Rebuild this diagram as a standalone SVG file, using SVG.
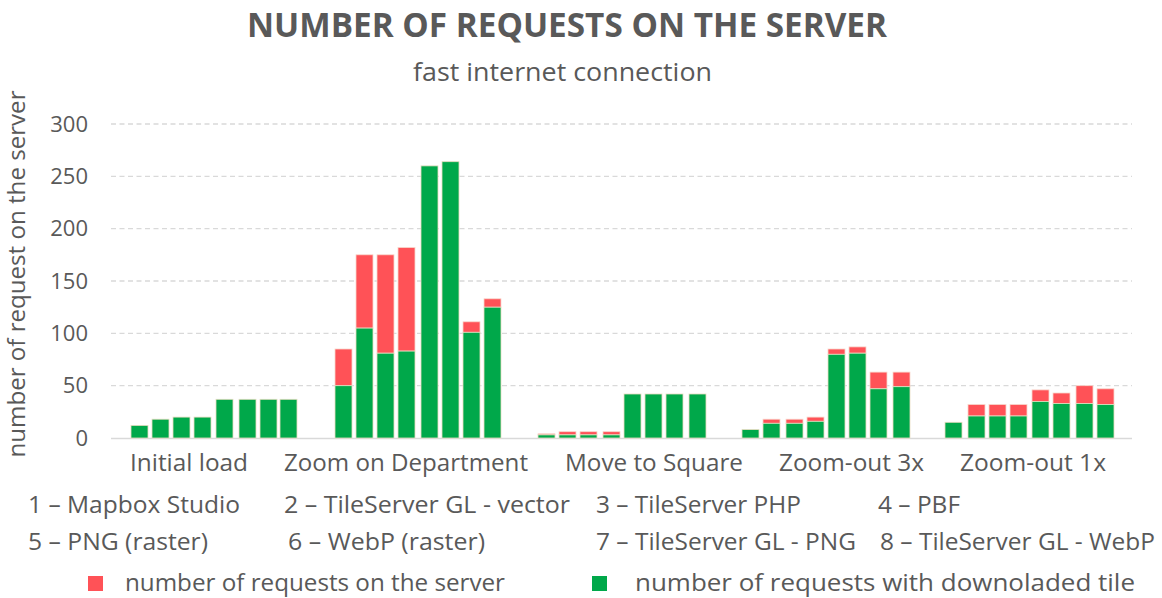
<svg xmlns="http://www.w3.org/2000/svg" width="1162" height="598" viewBox="0 0 1162 598">
<style>
.t{font-family:"Open Sans","Liberation Sans",sans-serif;fill:#595959}
.title{font-size:34px;font-weight:bold}
.sub{font-size:25px}
.ylab{font-size:24.5px}
.tick{font-size:22px;text-anchor:end}
.cat{font-size:24.5px}
.leg{font-size:24.5px}
.grid{stroke:#d9d9d9;stroke-width:1.3;stroke-dasharray:5 3.5}
.r{fill:#ff5257;stroke:#f8d8cc;stroke-width:0.8}
.g{fill:#00a84a;stroke:#e8dcc0;stroke-width:0.8}
</style>
<rect width="1162" height="598" fill="#ffffff"/>
<text class="t title" x="247" y="37" textLength="640" lengthAdjust="spacingAndGlyphs">NUMBER OF REQUESTS ON THE SERVER</text>
<text class="t sub" x="413" y="81" textLength="299" lengthAdjust="spacingAndGlyphs">fast internet connection</text>
<text class="t ylab" transform="translate(25,274) rotate(-90)" text-anchor="middle" textLength="367" lengthAdjust="spacingAndGlyphs">number of request on the server</text>
<g id="grid">
<line class="grid" x1="111" y1="124" x2="1132" y2="124"/>
<line class="grid" x1="111" y1="176.3" x2="1132" y2="176.3"/>
<line class="grid" x1="111" y1="228.7" x2="1132" y2="228.7"/>
<line class="grid" x1="111" y1="281" x2="1132" y2="281"/>
<line class="grid" x1="111" y1="333.3" x2="1132" y2="333.3"/>
<line class="grid" x1="111" y1="385.7" x2="1132" y2="385.7"/>
<line x1="111" y1="438.5" x2="1132" y2="438.5" stroke="#d9d9d9" stroke-width="1.5"/>
</g>
<g id="yticks">
<text class="t tick" x="88" y="131.5">300</text>
<text class="t tick" x="88" y="183.8">250</text>
<text class="t tick" x="88" y="236.2">200</text>
<text class="t tick" x="88" y="288.5">150</text>
<text class="t tick" x="88" y="340.8">100</text>
<text class="t tick" x="88" y="393.2">50</text>
<text class="t tick" x="88" y="445.5">0</text>
</g>
<g id="initial-load">
<rect class="g" x="131" y="425.4" width="17" height="12.6"/>
<rect class="g" x="152" y="419.2" width="17" height="18.8"/>
<rect class="g" x="173" y="417.1" width="17" height="20.9"/>
<rect class="g" x="194" y="417.1" width="17" height="20.9"/>
<rect class="g" x="216" y="399.3" width="17" height="38.7"/>
<rect class="g" x="239" y="399.3" width="17" height="38.7"/>
<rect class="g" x="260" y="399.3" width="17" height="38.7"/>
<rect class="g" x="280" y="399.3" width="17" height="38.7"/>
</g>
<g id="zoom-on-department">
<rect class="r" x="335" y="349" width="17" height="36.7"/>
<rect class="g" x="335" y="385.7" width="17" height="52.3"/>
<rect class="r" x="356" y="254.8" width="17" height="73.3"/>
<rect class="g" x="356" y="328.1" width="17" height="109.9"/>
<rect class="r" x="377" y="254.8" width="17" height="98.4"/>
<rect class="g" x="377" y="353.2" width="17" height="84.8"/>
<rect class="r" x="398" y="247.5" width="17" height="103.6"/>
<rect class="g" x="398" y="351.1" width="17" height="86.9"/>
<rect class="g" x="421" y="165.9" width="17" height="272.1"/>
<rect class="g" x="442" y="161.7" width="17" height="276.3"/>
<rect class="r" x="463" y="321.8" width="17" height="10.5"/>
<rect class="g" x="463" y="332.3" width="17" height="105.7"/>
<rect class="r" x="484" y="298.8" width="17" height="8.4"/>
<rect class="g" x="484" y="307.2" width="17" height="130.8"/>
</g>
<g id="move-to-square">
<rect class="r" x="538" y="433.8" width="17" height="1.1"/>
<rect class="g" x="538" y="434.9" width="17" height="3.1"/>
<rect class="r" x="559" y="431.7" width="17" height="3.2"/>
<rect class="g" x="559" y="434.9" width="17" height="3.1"/>
<rect class="r" x="580" y="431.7" width="17" height="3.2"/>
<rect class="g" x="580" y="434.9" width="17" height="3.1"/>
<rect class="r" x="603" y="431.7" width="17" height="3.2"/>
<rect class="g" x="603" y="434.9" width="17" height="3.1"/>
<rect class="g" x="624" y="394" width="17" height="44"/>
<rect class="g" x="645" y="394" width="17" height="44"/>
<rect class="g" x="666" y="394" width="17" height="44"/>
<rect class="g" x="689" y="394" width="17" height="44"/>
</g>
<g id="zoom-out-3x">
<rect class="g" x="742" y="429.6" width="17" height="8.4"/>
<rect class="r" x="763" y="419.2" width="17" height="4.1"/>
<rect class="g" x="763" y="423.3" width="17" height="14.7"/>
<rect class="r" x="786" y="419.2" width="17" height="4.1"/>
<rect class="g" x="786" y="423.3" width="17" height="14.7"/>
<rect class="r" x="807" y="417.1" width="17" height="4.2"/>
<rect class="g" x="807" y="421.3" width="17" height="16.7"/>
<rect class="r" x="828" y="349" width="17" height="5.3"/>
<rect class="g" x="828" y="354.3" width="17" height="83.7"/>
<rect class="r" x="849" y="346.9" width="17" height="6.3"/>
<rect class="g" x="849" y="353.2" width="17" height="84.8"/>
<rect class="r" x="870" y="372.1" width="17" height="16.7"/>
<rect class="g" x="870" y="388.8" width="17" height="49.2"/>
<rect class="r" x="893" y="372.1" width="17" height="14.6"/>
<rect class="g" x="893" y="386.7" width="17" height="51.3"/>
</g>
<g id="zoom-out-1x">
<rect class="g" x="945" y="422.3" width="17" height="15.7"/>
<rect class="r" x="968" y="404.5" width="17" height="11.5"/>
<rect class="g" x="968" y="416" width="17" height="22"/>
<rect class="r" x="989" y="404.5" width="17" height="11.5"/>
<rect class="g" x="989" y="416" width="17" height="22"/>
<rect class="r" x="1010" y="404.5" width="17" height="11.5"/>
<rect class="g" x="1010" y="416" width="17" height="22"/>
<rect class="r" x="1032" y="389.9" width="17" height="11.5"/>
<rect class="g" x="1032" y="401.4" width="17" height="36.6"/>
<rect class="r" x="1053" y="393" width="17" height="10.5"/>
<rect class="g" x="1053" y="403.5" width="17" height="34.5"/>
<rect class="r" x="1076" y="385.7" width="17" height="17.8"/>
<rect class="g" x="1076" y="403.5" width="17" height="34.5"/>
<rect class="r" x="1097" y="388.8" width="17" height="15.7"/>
<rect class="g" x="1097" y="404.5" width="17" height="33.5"/>
</g>
<g id="categories">
<text class="t cat" x="130" y="471" textLength="118" lengthAdjust="spacingAndGlyphs">Initial load</text>
<text class="t cat" x="284" y="471" textLength="244" lengthAdjust="spacingAndGlyphs">Zoom on Department</text>
<text class="t cat" x="565" y="471" textLength="178" lengthAdjust="spacingAndGlyphs">Move to Square</text>
<text class="t cat" x="779" y="471" textLength="145" lengthAdjust="spacingAndGlyphs">Zoom-out 3x</text>
<text class="t cat" x="960" y="471" textLength="146" lengthAdjust="spacingAndGlyphs">Zoom-out 1x</text>
</g>
<g id="series-names">
<text class="t leg" x="28" y="513" textLength="212" lengthAdjust="spacingAndGlyphs">1 – Mapbox Studio</text>
<text class="t leg" x="284" y="513" textLength="286" lengthAdjust="spacingAndGlyphs">2 – TileServer GL - vector</text>
<text class="t leg" x="596" y="513" textLength="205" lengthAdjust="spacingAndGlyphs">3 – TileServer PHP</text>
<text class="t leg" x="878" y="513" textLength="82" lengthAdjust="spacingAndGlyphs">4 – PBF</text>
<text class="t leg" x="28" y="550" textLength="180" lengthAdjust="spacingAndGlyphs">5 – PNG (raster)</text>
<text class="t leg" x="288" y="550" textLength="197" lengthAdjust="spacingAndGlyphs">6 – WebP (raster)</text>
<text class="t leg" x="596" y="550" textLength="260" lengthAdjust="spacingAndGlyphs">7 – TileServer GL - PNG</text>
<text class="t leg" x="880" y="550" textLength="275" lengthAdjust="spacingAndGlyphs">8 – TileServer GL - WebP</text>
</g>
<g id="legend">
<rect x="88" y="576" width="15" height="15" fill="#ff5257"/>
<text class="t leg" x="125" y="591" textLength="380" lengthAdjust="spacingAndGlyphs">number of requests on the server</text>
<rect x="592" y="576" width="15" height="15" fill="#00a84a"/>
<text class="t leg" x="635" y="591" textLength="500" lengthAdjust="spacingAndGlyphs">number of requests with downoladed tile</text>
</g>
</svg>
